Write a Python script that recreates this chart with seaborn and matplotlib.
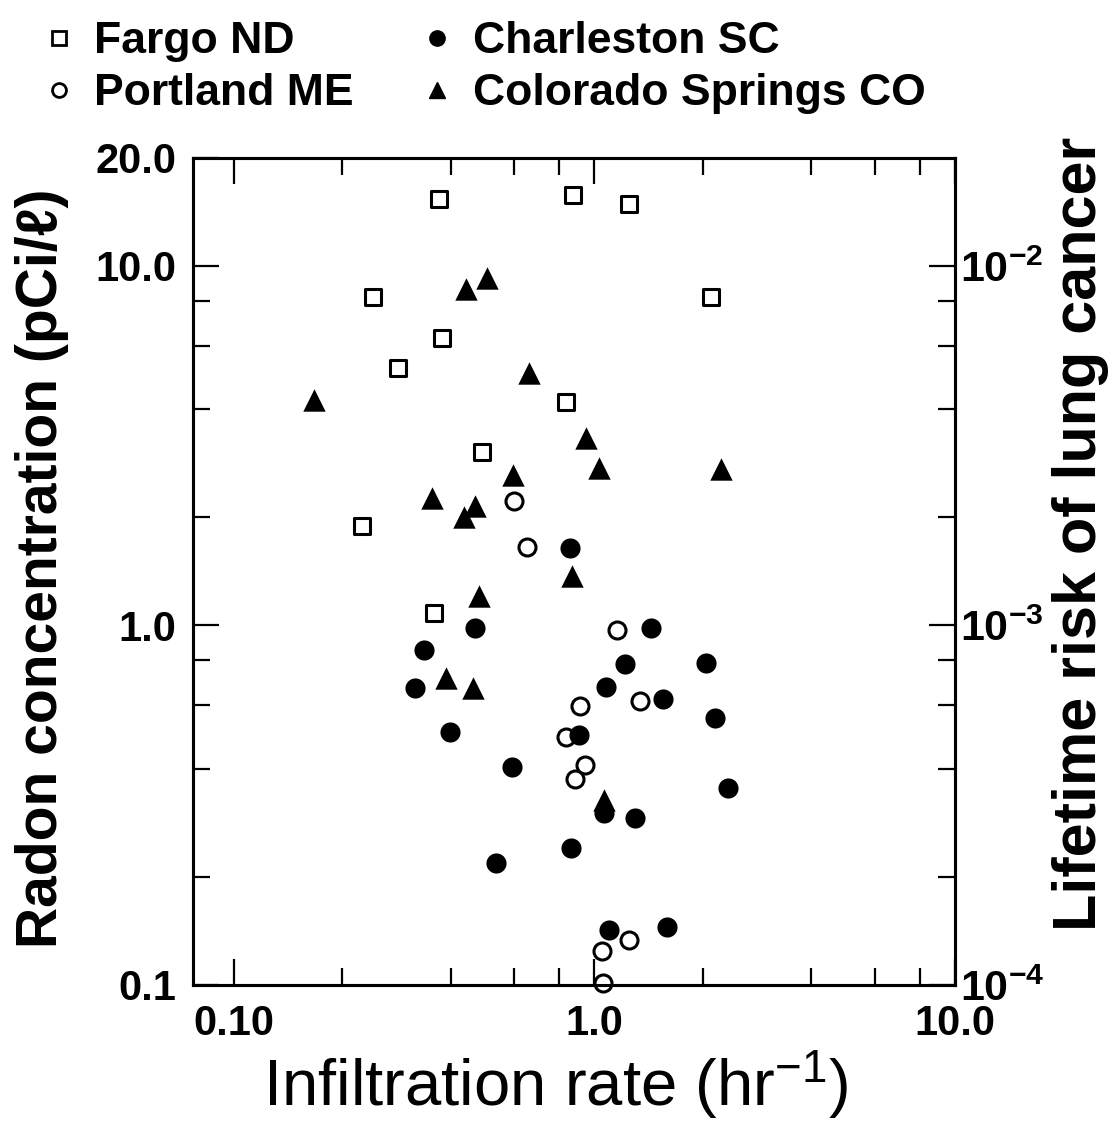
import pandas as pd
import matplotlib.pyplot as plt
import seaborn as sns
from matplotlib.ticker import FixedLocator, NullFormatter
from matplotlib.lines import Line2D

# Valori: tasso di infiltrazione (hr^-1) e radon (pCi/l)
fargo_x = [0.37, 0.87, 1.25, 0.243, 0.378, 0.285, 0.835, 0.487, 0.226, 0.36, 2.11]
fargo_y = [15.4, 15.8, 14.9, 8.2, 6.3, 5.2, 4.18, 3.03, 1.89, 1.08, 8.2]

portland_x = [0.60, 0.649, 1.156, 0.915, 0.835, 0.944, 0.884, 1.339, 1.25, 1.048, 1.054]
portland_y = [2.22, 1.65, 0.969, 0.599, 0.491, 0.41, 0.374, 0.618, 0.133, 0.124, 0.101]

charleston_x = [0.856, 0.468, 0.336, 0.319, 0.397, 0.59, 0.534, 0.862, 0.909, 1.436,
                1.216, 1.077, 1.546, 2.039, 2.16, 2.35, 1.066, 1.299, 1.095, 1.586]
charleston_y = [1.64, 0.984, 0.856, 0.67, 0.504, 0.405, 0.218, 0.241, 0.497, 0.984,
                0.781, 0.673, 0.625, 0.786, 0.553, 0.353, 0.301, 0.292, 0.142, 0.145]

colorado_x = [0.504, 0.441, 0.658, 0.1666, 0.947, 1.032, 2.252, 0.594, 0.355, 0.467,
              0.436, 0.868, 0.478, 0.387, 0.462, 1.066]
colorado_y = [9.24, 8.65, 5.05, 4.24, 3.33, 2.75, 2.72, 2.63, 2.27, 2.15,
              2.0, 1.37, 1.21, 0.714, 0.67, 0.327]

cities = ["Fargo ND", "Portland ME", "Charleston SC", "Colorado Springs CO"]
x_ticks = [0.1, 1, 10]
x_ticklabels = ["0.10", "1.0", "10.0"]
y_ticks = [0.1, 1, 10, 20]
y_ticklabels = ["0.1", "1.0", "10.0", "20.0"]
risk_ticks = [1e-4, 1e-3, 1e-2]
risk_ticklabels = [r"$10^{-4}$", r"$10^{-3}$", r"$10^{-2}$"]

df = pd.concat([
    pd.DataFrame({"infiltrazione": fargo_x, "radon": fargo_y, "citta": cities[0]}),
    pd.DataFrame({"infiltrazione": portland_x, "radon": portland_y, "citta": cities[1]}),
    pd.DataFrame({"infiltrazione": charleston_x, "radon": charleston_y, "citta": cities[2]}),
    pd.DataFrame({"infiltrazione": colorado_x, "radon": colorado_y, "citta": cities[3]}),
])

sns.set_style("ticks")
plt.rcParams["font.family"] = ["Liberation Sans", "DejaVu Sans"]
plt.rcParams["mathtext.default"] = "regular"
for k in ["text.color", "axes.labelcolor", "xtick.color", "ytick.color", "axes.edgecolor"]:
    plt.rcParams[k] = "black"

# stile dei marker per citta
stili = {
    "Fargo ND": dict(marker="s", s=140, facecolor="white", edgecolor="black", linewidth=2.2),
    "Portland ME": dict(marker="o", s=150, facecolor="white", edgecolor="black", linewidth=2.2),
    "Charleston SC": dict(marker="o", s=210, facecolor="black", edgecolor="black", linewidth=0),
    "Colorado Springs CO": dict(marker="^", s=260, facecolor="black", edgecolor="black", linewidth=0),
}

fig = plt.figure(figsize=(11.09, 11.27), dpi=100)
ax = fig.add_axes([0.174, 0.126, 0.687, 0.734])

for c in cities:
    sns.scatterplot(data=df[df["citta"] == c], x="infiltrazione", y="radon",
                    color="black", ax=ax, legend=False, clip_on=False, zorder=3, **stili[c])

ax.set_xscale("log")
ax.set_yscale("log")
ax.set_xlim(0.077, 10)
ax.set_ylim(0.1, 20)

ax.xaxis.set_major_locator(FixedLocator(x_ticks))
ax.set_xticklabels(x_ticklabels)
ax.xaxis.set_minor_locator(FixedLocator([0.2, 0.4, 0.6, 0.8, 2, 4, 6, 8]))
ax.xaxis.set_minor_formatter(NullFormatter())
ax.yaxis.set_major_locator(FixedLocator(y_ticks))
ax.set_yticklabels(y_ticklabels)
ax.yaxis.set_minor_locator(FixedLocator([0.2, 0.4, 0.6, 0.8, 2, 4, 6, 8]))
ax.yaxis.set_minor_formatter(NullFormatter())

ax.tick_params(which="both", direction="in", top=True, right=False, width=1.6)
ax.tick_params(which="major", length=19)
ax.tick_params(which="minor", length=12)
ax.tick_params(axis="y", which="major", pad=12, labelsize=30)
ax.tick_params(axis="x", which="major", pad=14, labelsize=30)
for lab in ax.get_xticklabels() + ax.get_yticklabels():
    lab.set_fontweight("bold")

for sp in ax.spines.values():
    sp.set_linewidth(2.2)

ax.set_xlabel(r"Infiltration rate (hr$^{-1}$)", fontsize=47, va="center")
ax.xaxis.set_label_coords(0.476, -0.121)
ax.set_ylabel("Radon concentration (pCi/ℓ)", fontsize=41, fontweight="bold", va="center")
ax.yaxis.set_label_coords(-0.198, 0.504)

# asse destro: rischio di cancro polmonare
ax2 = ax.twinx()
ax2.set_yscale("log")
ax2.set_ylim(1e-4, 2e-2)
ax2.yaxis.set_major_locator(FixedLocator(risk_ticks))
ax2.set_yticklabels(risk_ticklabels)
ax2.yaxis.set_minor_locator(FixedLocator([2e-4, 4e-4, 6e-4, 8e-4, 2e-3, 4e-3, 6e-3, 8e-3]))
ax2.yaxis.set_minor_formatter(NullFormatter())
ax2.tick_params(which="both", direction="in", width=1.6)
ax2.tick_params(which="major", length=19, pad=4, labelsize=31)
ax2.tick_params(which="minor", length=12)
for lab in ax2.get_yticklabels():
    lab.set_fontweight("bold")
for sp in ax2.spines.values():
    sp.set_linewidth(2.2)
ax2.set_ylabel("Lifetime risk of lung cancer", fontsize=44, fontweight="bold", va="center")
ax2.yaxis.set_label_coords(1.165, 0.545)

# legenda a due colonne in alto
handles = [
    Line2D([], [], marker="s", linestyle="none", markersize=10, markerfacecolor="white",
           markeredgecolor="black", markeredgewidth=2),
    Line2D([], [], marker="o", linestyle="none", markersize=10, markerfacecolor="white",
           markeredgecolor="black", markeredgewidth=2),
    Line2D([], [], marker="o", linestyle="none", markersize=11, color="black"),
    Line2D([], [], marker="^", linestyle="none", markersize=11, color="black"),
]
fig.legend(handles, cities, ncol=2, loc="upper left", bbox_to_anchor=(0.013, 1.001),
           frameon=False, prop={"size": 32, "weight": "bold"}, handlelength=1.0,
           handletextpad=0.3, columnspacing=1.37, labelspacing=0.25, borderpad=0)

plt.savefig("out.png", dpi=100)
plt.close()
